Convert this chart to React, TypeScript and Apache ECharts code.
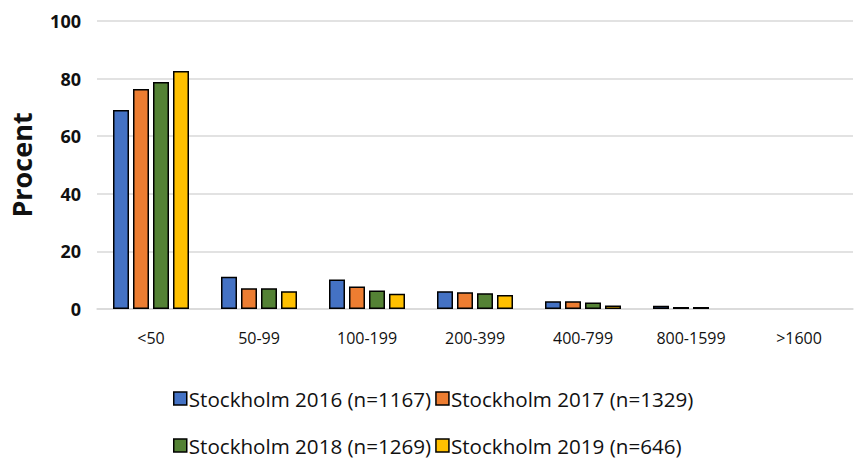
import React, { useEffect, useRef } from "react";
import * as echarts from "echarts";

const categories = ["<50", "50-99", "100-199", "200-399", "400-799", "800-1599", ">1600"];
const seriesNames = [
  "Stockholm 2016 (n=1167)",
  "Stockholm 2017 (n=1329)",
  "Stockholm 2018 (n=1269)",
  "Stockholm 2019 (n=646)",
];
const values2016 = [69.1, 11.2, 10.2, 6.2, 2.7, 1.1, 0];
const values2017 = [76.4, 7.2, 7.8, 5.8, 2.7, 0.7, 0];
const values2018 = [78.8, 7.2, 6.4, 5.5, 2.3, 0.7, 0];
const values2019 = [82.6, 6.2, 5.3, 4.9, 1.2, 0, 0];
const yTicks = { min: 0, max: 100, interval: 20 };
const colors = ["#4472C4", "#ED7D31", "#548235", "#FFC000"];

const FONT = "Open Sans";

export default function App() {
  const ref = useRef<HTMLDivElement>(null);
  useEffect(() => {
    document.body.style.margin = "0";
    if (!ref.current) return;
    const chart = echarts.init(ref.current, null, { renderer: "svg" });
    const allValues = [values2016, values2017, values2018, values2019];
    const legendCommon = {
      left: 168,
      orient: "horizontal" as const,
      icon: "rect",
      itemWidth: 13,
      itemHeight: 13,
      itemGap: 4,
      textStyle: { fontFamily: FONT, fontSize: 20.6, color: "#111", padding: [0, 0, 0, -3] },
      itemStyle: { borderColor: "#000", borderWidth: 1.5 },
    };
    chart.setOption({
      animation: false,
      textStyle: { fontFamily: FONT },
      grid: { left: 97, right: 3, top: 21, bottom: 152 },
      legend: [
        { ...legendCommon, top: 383, data: [seriesNames[0], seriesNames[1]] },
        { ...legendCommon, top: 430, data: [seriesNames[2], seriesNames[3]] },
      ],
      xAxis: {
        type: "category",
        data: categories,
        axisLine: { lineStyle: { color: "#d9d9d9", width: 1.5 } },
        axisTick: { show: false },
        axisLabel: { fontFamily: FONT, fontSize: 16, color: "#111", margin: 21 },
      },
      yAxis: {
        type: "value",
        min: yTicks.min,
        max: yTicks.max,
        interval: yTicks.interval,
        name: "Procent",
        nameLocation: "middle",
        nameGap: 62,
        nameTextStyle: { fontFamily: FONT, fontSize: 27, fontWeight: "bold", color: "#111" },
        axisLine: { show: false },
        axisTick: { show: false },
        axisLabel: { fontFamily: FONT, fontSize: 18, fontWeight: "bold", color: "#111", margin: 16 },
        splitLine: { lineStyle: { color: "#d9d9d9", width: 1.5 } },
      },
      series: seriesNames.map((name, i) => ({
        name,
        type: "bar",
        data: allValues[i].map((v) => (v === 0 ? null : v)),
        barWidth: 16,
        barGap: "25%",
        itemStyle: { color: colors[i], borderColor: "#000", borderWidth: 1.5 },
      })),
    });
    return () => chart.dispose();
  }, []);
  return <div ref={ref} style={{ width: 856, height: 461 }} />;
}
